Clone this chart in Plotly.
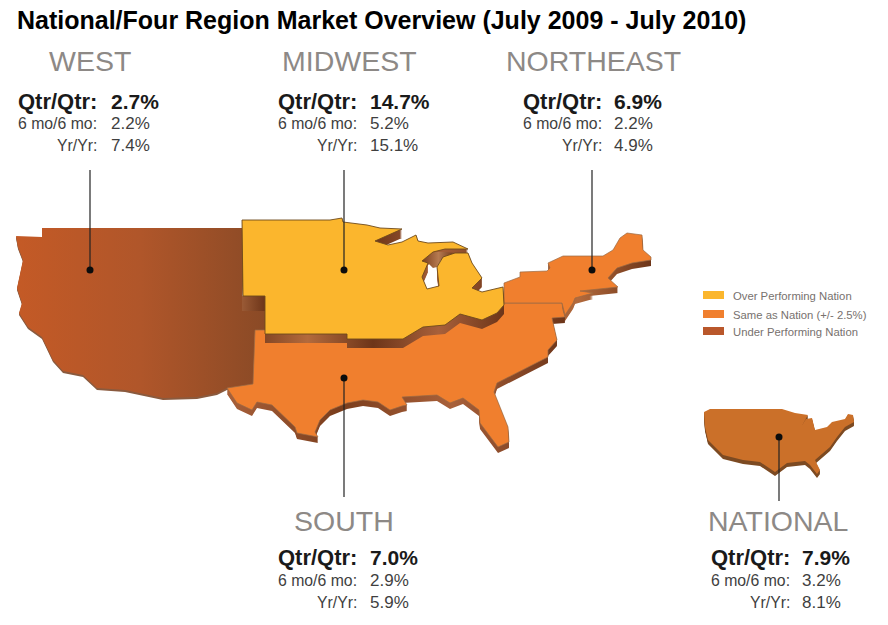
import plotly.graph_objects as go

# Market figures
regions = ["WEST", "MIDWEST", "NORTHEAST", "SOUTH", "NATIONAL"]
qtr_qtr = ["2.7%", "14.7%", "6.9%", "7.0%", "7.9%"]
six_mo = ["2.2%", "5.2%", "2.2%", "2.9%", "3.2%"]
yr_yr = ["7.4%", "15.1%", "4.9%", "5.9%", "8.1%"]

# Where each block of text and each pointer sits (picture pixels)
name_x = [90, 349, 593, 344, 778]
name_y = [61, 61, 61, 521, 521]
label_x = [97, 357, 602, 357, 790]
value_x = [111, 370, 614, 370, 802]
rows_y = [[101, 123, 145], [101, 123, 145], [101, 123, 145], [557, 580, 602], [557, 580, 602]]
pin_x = [90, 344, 592, 344, 779]
pin_y = [270, 270, 270, 378, 437]
pin_end_y = [170, 170, 170, 497, 501]

legend_labels = ["Over Performing Nation", "Same as Nation (+/- 2.5%)", "Under Performing Nation"]
legend_colors = ["#fbb62d", "#f07f2e", "#b9572b"]
legend_y = [295, 314, 331]

# Region outlines
west_x = [16, 42, 42, 242, 242, 265, 265, 255, 253, 227, 217, 197, 163, 125, 97, 83, 63, 53, 42, 28, 19, 22, 17, 23, 18]
west_y = [236, 237, 228, 228, 296, 296, 330, 330, 384, 388, 393, 397, 398, 390, 388, 375, 371, 360, 337, 327, 313, 303, 288, 260, 247]

midwest_x = [242, 330, 342, 343, 367, 380, 402, 375, 388, 402, 416, 418, 428, 453, 468, 445, 433, 422, 428, 422, 427, 439,
             437, 443, 455, 468, 472, 482, 472, 482, 503, 504, 497, 482, 460, 445, 423, 403, 347, 347, 265, 265, 243]
midwest_y = [220, 220, 218, 222, 225, 228, 229, 241, 245, 242, 235, 241, 243, 242, 249, 249, 252, 261, 263, 277, 289, 286,
             267, 257, 253, 253, 263, 278, 288, 292, 287, 305, 313, 320, 314, 325, 327, 339, 339, 334, 334, 296, 296]

# Deeper brown patches: under the Midwest's west corner and inside Lake Michigan
corner_x = [242, 265, 265, 242]
corner_y = [296, 296, 311, 311]
lake_x = [433, 422, 428, 433, 437, 443, 455, 445]
lake_y = [252, 261, 263, 268, 267, 257, 253, 252]

south_x = [255, 270, 504, 562, 563, 565, 552, 557, 548, 548, 497, 494, 508, 509, 498, 480, 479, 463, 450, 437, 402, 407, 402,
           390, 378, 363, 347, 330, 320, 315, 318, 297, 295, 272, 257, 252, 237, 227, 253]
south_y = [330, 330, 303, 303, 310, 317, 318, 340, 350, 357, 383, 392, 427, 442, 447, 423, 410, 398, 403, 395, 397, 405, 406,
           410, 402, 400, 403, 410, 420, 432, 437, 433, 427, 405, 402, 410, 403, 388, 384]

northeast_x = [504, 504, 520, 520, 547, 550, 548, 563, 603, 613, 620, 627, 642, 643, 651, 651, 632, 617, 608, 618, 580, 593, 575,
               573, 565, 562]
northeast_y = [303, 283, 277, 272, 271, 268, 263, 256, 256, 250, 238, 233, 235, 250, 257, 260, 263, 268, 278, 287, 291, 293, 298,
               303, 315, 303]

national_x = [704, 710, 782, 795, 808, 801, 806, 812, 815, 827, 832, 845, 848, 853, 854, 845, 837, 830, 815, 820, 817, 810, 805,
              787, 775, 760, 743, 723, 708, 705]
national_y = [412, 409, 409, 413, 415, 427, 419, 418, 430, 427, 422, 419, 414, 415, 422, 427, 437, 447, 460, 470, 474, 465, 461,
              463, 472, 462, 460, 455, 440, 427]

SANS = "Liberation Sans"
GREY = "#8d8986"
DARK = "#3f3f3f"


def add_area(fig, xs, ys, color=None, gradient=None, line=None, width=0.8, drop=0):
    fig.add_trace(go.Scatter(
        x=list(xs) + [xs[0]],
        y=[v + drop for v in ys] + [ys[0] + drop],
        mode="lines",
        fill="toself",
        fillcolor=color,
        fillgradient=gradient,
        line=dict(color=line or "rgba(0,0,0,0)", width=width),
        hoverinfo="skip",
    ))


def add_side(fig, xs, ys, depth, color=None, gradient=None):
    # the raised edge of a region: the outline repeated downwards
    for d in range(1, depth + 1):
        add_area(fig, xs, ys, color=color, gradient=gradient, drop=d)


def sweep(colors):
    steps = [i / (len(colors) - 1) for i in range(len(colors))]
    return dict(type="horizontal", colorscale=list(zip(steps, colors)))


fig = go.Figure()

# Big map, back to front
add_side(fig, west_x, west_y, 2, color="#8a5a3e")
add_area(fig, west_x, west_y, gradient=sweep(["#c45a26", "#b0562a", "#8a4a26"]))
add_side(fig, northeast_x, northeast_y, 6, gradient=sweep(["#7a3d1c", "#b36a3c", "#6d3519"]))
add_side(fig, south_x, south_y, 6, gradient=sweep(["#a8603a", "#7a3d1c", "#a8603a", "#6d3519"]))
add_area(fig, south_x, south_y, color="#f07f2e", line="#9a6a45", width=0.7)
add_area(fig, northeast_x, northeast_y, color="#f07f2e", line="#9a6a45", width=0.7)
add_side(fig, midwest_x, midwest_y, 9, gradient=sweep(["#6d3519", "#b36a3c", "#6d3519", "#a8603a", "#6d3519"]))
add_area(fig, corner_x, corner_y, gradient=sweep(["#9a5a35", "#6d3519"]))
add_area(fig, lake_x, lake_y, gradient=sweep(["#7a3d1c", "#b67a50", "#6d3519"]))
add_area(fig, midwest_x, midwest_y, color="#fbb62d", line="#6e4a1c", width=0.9)

# Small national map
add_side(fig, national_x, national_y, 4, color="#7c4a22")
add_area(fig, national_x, national_y, color="#cb7029")

# Pointers
for i in range(len(regions)):
    fig.add_trace(go.Scatter(
        x=[pin_x[i], pin_x[i]], y=[pin_y[i], pin_end_y[i]],
        mode="lines", line=dict(color="#222222", width=1.2), hoverinfo="skip",
    ))
fig.add_trace(go.Scatter(
    x=pin_x, y=pin_y, mode="markers",
    marker=dict(color="#0c0c0c", size=7), hoverinfo="skip",
))


def add_text(x, y, text, size, color, anchor="left", bold=False):
    fig.add_annotation(
        x=x, y=y, text=f"<b>{text}</b>" if bold else text,
        xref="x", yref="y", showarrow=False,
        xanchor=anchor, yanchor="middle", borderpad=0, borderwidth=0,
        font=dict(family=SANS, size=size, color=color),
    )


add_text(17, 20, "National/Four Region Market Overview (July 2009 - July 2010)", 25, "#000000", bold=True)

for i, name in enumerate(regions):
    add_text(name_x[i], name_y[i], name, 28.5, GREY, anchor="center")
    add_text(label_x[i], rows_y[i][0], "Qtr/Qtr:", 22, "#1a1a1a", anchor="right", bold=True)
    add_text(value_x[i], rows_y[i][0], qtr_qtr[i], 21, "#1a1a1a", bold=True)
    add_text(label_x[i], rows_y[i][1], "6 mo/6 mo:", 15.8, DARK, anchor="right")
    add_text(value_x[i], rows_y[i][1], six_mo[i], 17, DARK)
    add_text(label_x[i], rows_y[i][2], "Yr/Yr:", 15.8, DARK, anchor="right")
    add_text(value_x[i], rows_y[i][2], yr_yr[i], 17, DARK)

# Legend
for label, color, y in zip(legend_labels, legend_colors, legend_y):
    fig.add_shape(type="rect", xref="x", yref="y", x0=703, x1=724, y0=y - 4, y1=y + 4,
                  fillcolor=color, line_width=0)
    add_text(733, y + 1, label, 11.3, "#77716e")

fig.update_layout(
    width=888,
    height=625,
    margin=dict(l=0, r=0, t=0, b=0),
    paper_bgcolor="#ffffff",
    plot_bgcolor="#ffffff",
    showlegend=False,
    xaxis=dict(range=[0, 888], visible=False, fixedrange=True),
    yaxis=dict(range=[625, 0], visible=False, fixedrange=True),
)

# the page's default body margin would push the figure off by 8px
fig.write_html("out.html", config=dict(displayModeBar=False),
               post_script="document.body.style.margin = '0';")
